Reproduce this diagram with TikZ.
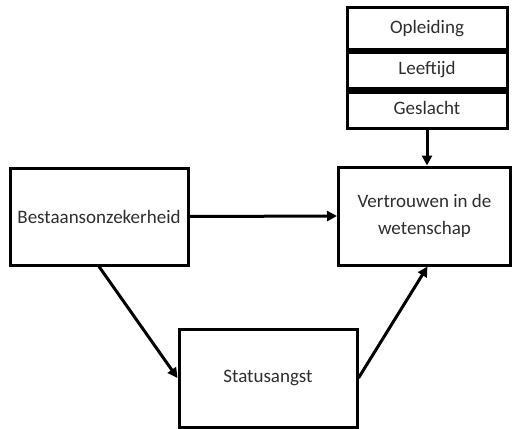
\documentclass[tikz,border=0pt]{standalone}
\usepackage{fontspec}
\setmainfont{Carlito}
\usetikzlibrary{arrows.meta}
\begin{document}
\begin{tikzpicture}[x=1pt,y=-1pt,
  box/.style={draw=black,line width=3pt,fill=white,inner sep=0pt,font=\fontsize{19}{27}\selectfont,text=black!82,align=center},
  arr/.style={line width=3pt,-{Triangle[length=10pt,width=10pt]}}]
\useasboundingbox (0,0) rectangle (513,428);
\node[box,minimum width=178pt,minimum height=97pt] (B) at (99,216.5) {Bestaansonzekerheid};
\node[box,minimum width=172pt,minimum height=98pt] (V) at (424.5,216) {Vertrouwen in de\\wetenschap};
\node[box,minimum width=178pt,minimum height=98pt] (S) at (268,378) {Statusangst};
\node[box,minimum width=160pt,minimum height=42pt] (O) at (427,29) {Opleiding};
\node[box,minimum width=160pt,minimum height=40pt] (L) at (427,69.5) {Leeftijd};
\node[box,minimum width=160pt,minimum height=40pt] (G) at (427,108) {Geslacht};
\draw[line width=5pt] (O.south west) -- (O.south east);
\draw[line width=5pt] (L.south west) -- (L.south east);
\draw[arr] (B.east) -- (V.west);
\draw[arr] (G.south) -- (G.south |- V.north);
\draw[arr] (B.south) -- (S.west);
\draw[arr] (S.east) -- ([xshift=3pt]V.south);
\end{tikzpicture}
\end{document}
